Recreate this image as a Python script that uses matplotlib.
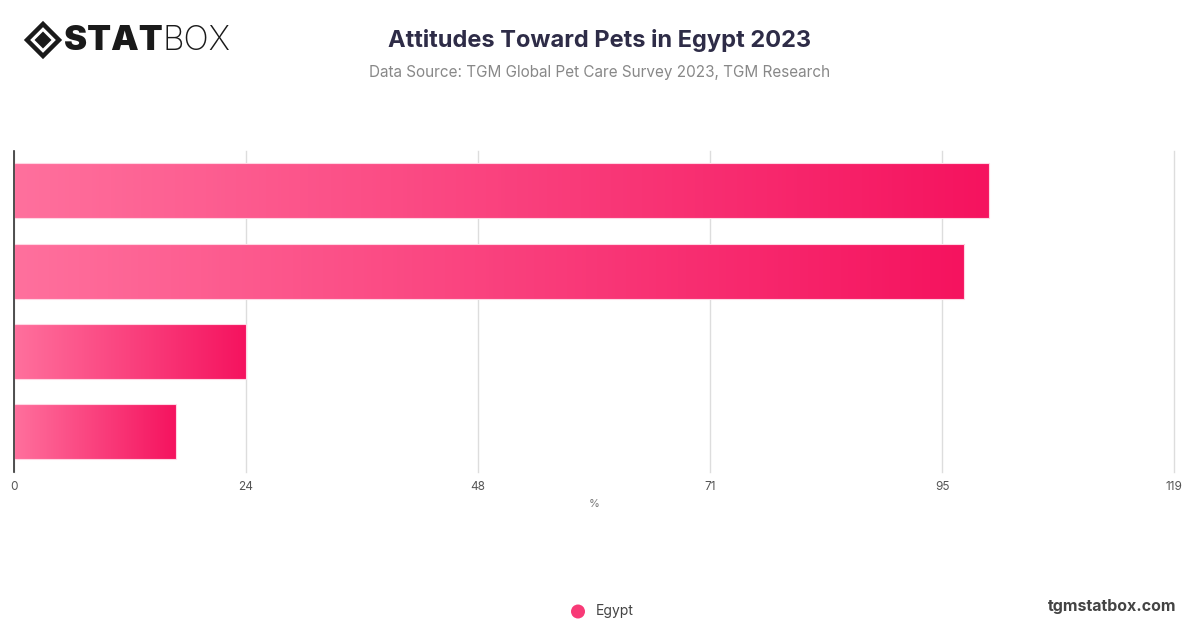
import numpy as np
import matplotlib
matplotlib.use('Agg')
import matplotlib.pyplot as plt
from matplotlib.colors import LinearSegmentedColormap
from matplotlib.patches import Polygon, Circle

# ---- data ----
series_name = 'Egypt'
values = [100.0, 97.5, 23.8, 16.6]
x_max = 119
tick_values = list(np.linspace(0, x_max, 6))
tick_labels = ['0', '24', '48', '71', '95', '119']

title = 'Attitudes Toward Pets in Egypt 2023'
subtitle = 'Data Source: TGM Global Pet Care Survey 2023, TGM Research'
x_label = '%'

# ---- style ----
c_light = '#FF709D'
c_dark = '#F5135F'
cmap = LinearSegmentedColormap.from_list('pink', [c_light, c_dark])

W, H = 1200, 628
fig = plt.figure(figsize=(W / 100, H / 100), dpi=100)
fig.patch.set_facecolor('white')

ax = fig.add_axes([14 / W, 1 - 471.7 / H, 1160 / W, 321 / H])
ax.set_xlim(0, x_max)
ypos = np.arange(len(values))
ax.set_ylim(len(values) - 0.5, -0.5)

bars = ax.barh(ypos, values, height=0.685, color='none', edgecolor='#FFD6E4', linewidth=0.8, zorder=3)
grad = np.linspace(0, 1, 256).reshape(1, -1)
for b in bars:
    x0, y0 = b.get_x(), b.get_y()
    w, h = b.get_width(), b.get_height()
    im = ax.imshow(grad, cmap=cmap, aspect='auto', extent=[x0, x0 + w, y0 + h, y0],
                   interpolation='bilinear', zorder=2)
    im.set_clip_path(b)

ax.set_xticks(tick_values)
ax.set_xticklabels(tick_labels)
ax.set_yticks([])
ax.grid(axis='x', color='#DDDDDD', linewidth=1, zorder=0)
ax.set_axisbelow(True)
for gl in ax.get_xgridlines():
    gl.set_clip_on(False)
for s in ['top', 'right', 'bottom']:
    ax.spines[s].set_visible(False)
ax.spines['left'].set_color('#333333')
ax.spines['left'].set_linewidth(1.2)
ax.spines['left'].set_zorder(4)
ax.tick_params(axis='x', length=0, pad=7, labelsize=8.5, labelcolor='#555555')
for t in ax.get_xticklabels():
    t.set_fontfamily('Inter')
ax.set_xlabel(x_label, fontsize=8, color='#777777', labelpad=4, fontfamily='Inter')

# ---- title ----
fig.text(600 / W, 1 - 40.5 / H, title, ha='center', va='center', fontsize=17,
         fontweight='bold', color='#2E2C47', fontfamily='Inter')
fig.text(600 / W, 1 - 72 / H, subtitle, ha='center', va='center', fontsize=11,
         color='#888888', fontfamily='Inter')

# ---- logo ----
lax = fig.add_axes([0, 0, 1, 1], zorder=-1)
lax.set_xlim(0, W)
lax.set_ylim(H, 0)
lax.axis('off')
cx, cy, r = 43, 40, 16
outer = Polygon([[cx - r, cy], [cx, cy - r], [cx + r, cy], [cx, cy + r]], closed=True,
                fill=False, edgecolor='#1a1a1a', linewidth=3.2, joinstyle='miter')
ri = 8.5
inner = Polygon([[cx - ri, cy], [cx, cy - ri], [cx + ri, cy], [cx, cy + ri]], closed=True,
                facecolor='#1a1a1a', edgecolor='none')
lax.add_patch(outer)
lax.add_patch(inner)
lax.text(64, 41, 'STAT', ha='left', va='center', fontsize=25, fontweight='black',
         color='#1a1a1a', fontfamily='Inter')
lax.text(162, 41, 'BOX', ha='left', va='center', fontsize=24, fontweight='light',
         color='#1a1a1a', fontfamily='Inter')

# ---- legend ----
leg_circle = Circle((578, 611.5), 7, facecolor='#F83A77', edgecolor='none')
lax.add_patch(leg_circle)
lax.text(596, 611.5, series_name, ha='left', va='center', fontsize=10, color='#444444',
         fontfamily='Inter')

lax.text(1176, 606, 'tgmstatbox.com', ha='right', va='center', fontsize=11.5,
         fontweight='bold', color='#444444', fontfamily='Inter')

fig.savefig('out.png', dpi=100, facecolor='white')
